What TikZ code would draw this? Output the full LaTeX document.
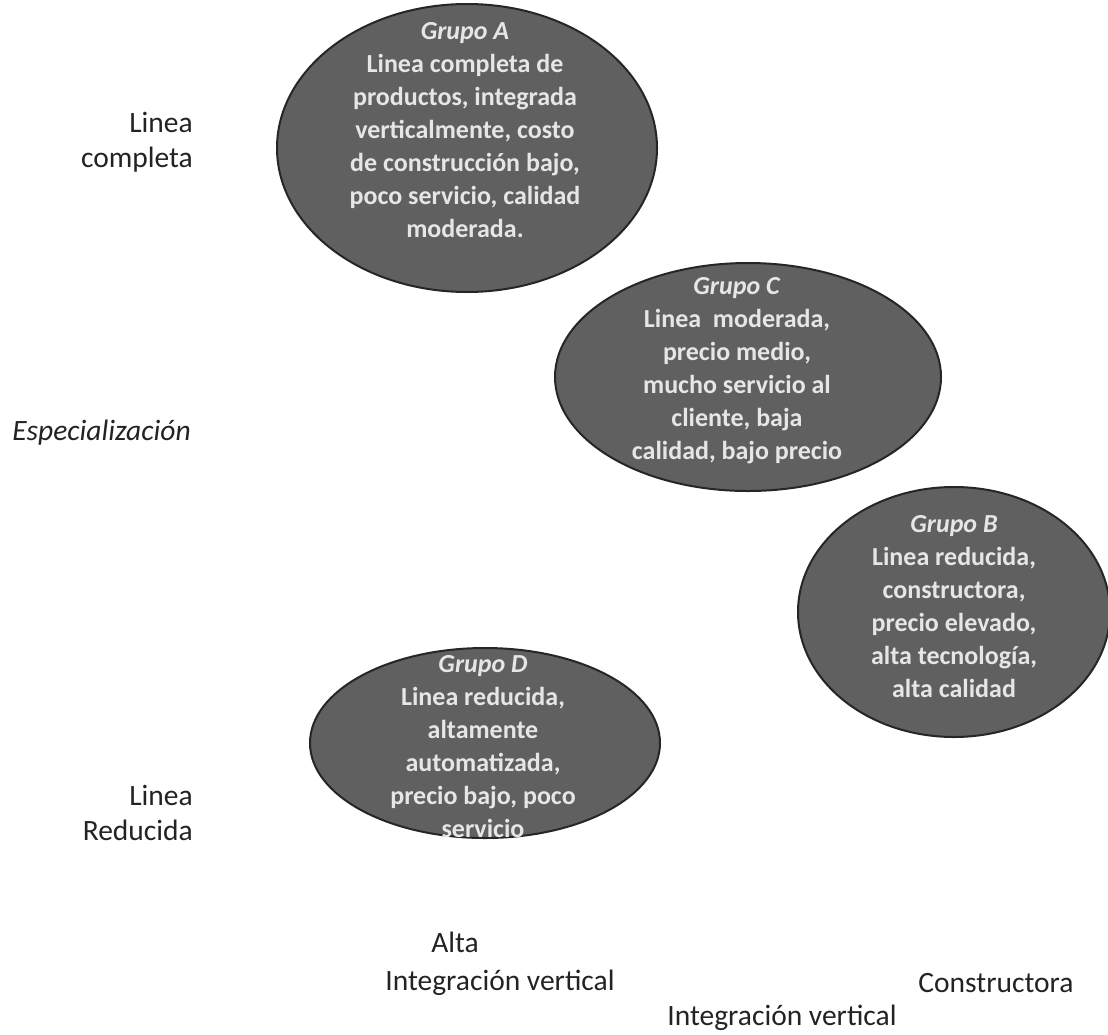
\documentclass[tikz,border=0pt]{standalone}
\usepackage{fontspec}
\setmainfont{Carlito}
\usetikzlibrary{shapes.geometric}
\definecolor{grpfill}{RGB}{96,96,96}
\definecolor{grpline}{RGB}{38,38,38}
\definecolor{grptxt}{RGB}{230,230,230}
\definecolor{lbltxt}{RGB}{35,35,35}
\begin{document}
\begin{tikzpicture}[x=1pt,y=-1pt,
  grp/.style={ellipse, draw=grpline, line width=2pt, fill=grpfill, inner sep=0pt},
  grptext/.style={text=grptxt, align=center, font=\fontsize{26}{33}\selectfont\bfseries, inner sep=0pt},
  lbl/.style={text=lbltxt, font=\fontsize{29.5}{35}\selectfont, inner sep=0pt}]
\useasboundingbox (0,0) rectangle (1108,1034);
% ellipses
\node[grp, minimum width=380pt, minimum height=288pt] (A) at (467,148) {};
\node[grptext] (Atext) at (465,130) {\textit{Grupo A}\\Linea completa de\\productos, integrada\\verticalmente, costo\\de construcción bajo,\\poco servicio, calidad\\moderada.};
\node[grp, minimum width=386pt, minimum height=228pt] (C) at (748,377) {};
\node[grptext] (Ctext) at (737,371) {\textit{Grupo C}\\Linea\ \ moderada,\\precio medio,\\mucho servicio al\\cliente, baja\\calidad, bajo precio};
\node[grp, minimum width=312pt, minimum height=250pt] (B) at (954,612) {};
\node[grptext] (Btext) at (954,607) {\textit{Grupo B}\\Linea reducida,\\constructora,\\precio elevado,\\alta tecnología,\\alta calidad};
\node[grp, minimum width=350pt, minimum height=190pt] (D) at (485,743) {};
\node[grptext] (Dtext) at (483,747) {\textit{Grupo D}\\Linea reducida,\\altamente\\automatizada,\\precio bajo, poco\\servicio};
% labels
\node[lbl, align=right, anchor=east] (lcomp) at (193,142) {Linea\\completa};
\node[lbl, anchor=east] (espec) at (191,433) {\textit{Especialización}};
\node[lbl, align=right, anchor=east] (lred) at (193,813) {Linea\\Reducida};
\node[lbl] (alta) at (455,942) {Alta};
\node[lbl] (intv1) at (500,983) {Integración vertical};
\node[lbl] (constr) at (996,983) {Constructora};
\node[lbl] (intv2) at (782,1018) {Integración vertical};
\end{tikzpicture}
\end{document}
